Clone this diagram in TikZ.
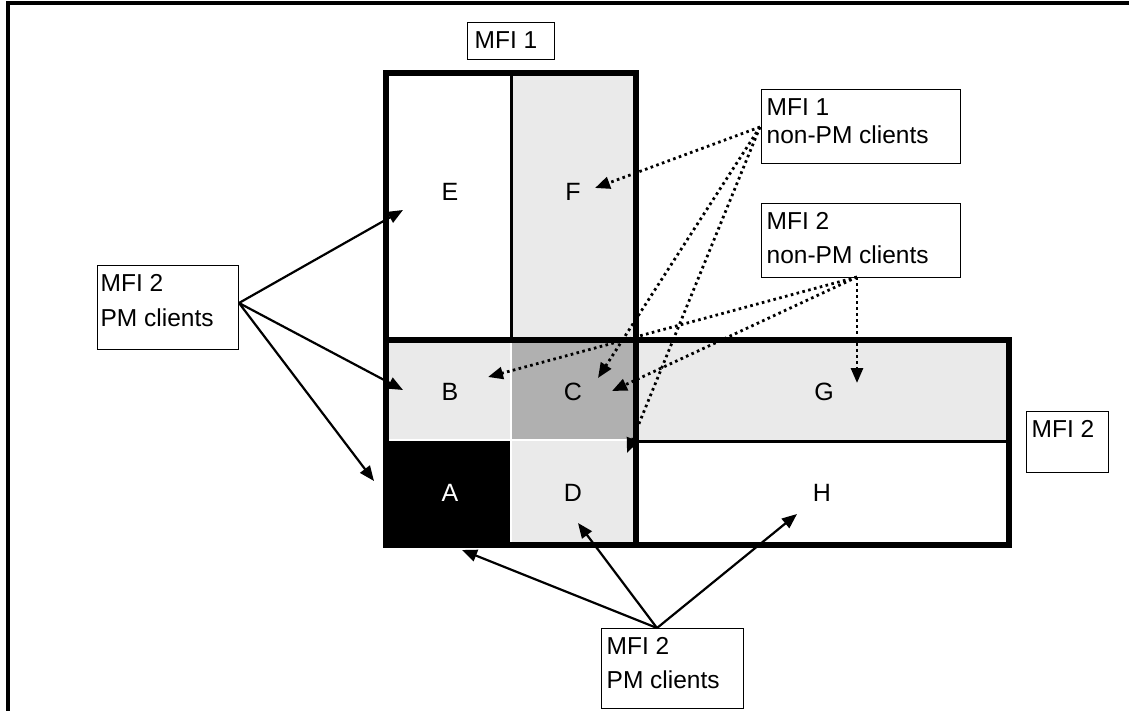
\documentclass[tikz,border=0pt]{standalone}
\usepackage{fontspec}
\setmainfont{Liberation Sans}
\usetikzlibrary{arrows.meta,calc}
\definecolor{lightfill}{RGB}{234,234,234}
\definecolor{midfill}{RGB}{176,176,176}
\tikzset{
  thickline/.style={line width=6.5pt, line cap=rect},
  thinline/.style={line width=3pt},
  gapline/.style={line width=2pt, white},
  cell/.style={font=\fontsize{25}{30}\selectfont},
  labelbox/.style={draw, line width=1.3pt, inner sep=0pt, anchor=north west},
  solidarrow/.style={line width=2.2pt, -{Triangle[length=15pt,width=12pt]}},
  dotarrow/.style={line width=2.8pt, dash pattern=on 2.6pt off 3.4pt, -{Triangle[length=15pt,width=12pt]}},
}
\newcommand{\boxtext}[6]{\parbox[t][#2pt][t]{#1pt}{\fontsize{24.5}{#3}\selectfont\hspace*{#4pt}\rule{0pt}{26pt}#5\\\hspace*{#4pt}#6}}
\newcommand{\boxone}[4]{\parbox[t][#2pt][t]{#1pt}{\fontsize{24.5}{28}\selectfont\hspace*{#3pt}\rule{0pt}{26pt}#4}}
\begin{document}
\begin{tikzpicture}[x=1pt,y=-1pt]
\useasboundingbox (0,0) rectangle (1129,710);
% outer frame
\draw[line width=4pt] (8,712) -- (8,3) -- (1131,3);
% cell fills
\fill[white] (386,73) rectangle (511,340);
\fill[lightfill] (511,73) rectangle (636,340);
\fill[lightfill] (386,340) rectangle (511,440);
\fill[midfill] (511,340) rectangle (636,440);
\fill[black] (386,440) rectangle (511,545);
\fill[lightfill] (511,440) rectangle (636,545);
\fill[lightfill] (636,340) rectangle (1009,441);
\fill[white] (636,441) rectangle (1009,545);
% gaps and thin lines
\draw[gapline] (511,340) -- (511,545);
\draw[gapline] (386,440) -- (636,440);
\draw[thinline] (511,73) -- (511,340);
\draw[thinline] (636,441) -- (1009,441);
% thick outlines
\draw[thickline] (386,545) -- (386,73) -- (636,73) -- (636,545);
\draw[thickline] (386,340) -- (1009,340) -- (1009,545) -- (386,545);
% cell labels
\node[cell] (cE) at (450,192) {E};
\node[cell] (cF) at (573,192) {F};
\node[cell] (cB) at (450,392) {B};
\node[cell] (cC) at (573,392) {C};
\node[cell] (cG) at (824,392) {G};
\node[cell, white] (cA) at (450,493) {A};
\node[cell] (cD) at (573,493) {D};
\node[cell] (cH) at (822,493) {H};
% label boxes
\node[labelbox] (top1) at (467,22) {\boxone{87}{37}{7}{MFI 1}};
\node[labelbox] (right2) at (1026,411) {\boxone{82}{61}{5}{MFI 2}};
\node[labelbox] (lpm) at (97,265) {\boxtext{141}{84}{35}{3}{MFI 2}{PM clients}};
\node[labelbox] (bpm) at (601,628) {\boxtext{142}{80}{34}{5}{MFI 2}{PM clients}};
\node[labelbox] (n1) at (761,89) {\boxtext{199}{74}{28}{5}{MFI 1}{non-PM clients}};
\node[labelbox] (n2) at (761,203) {\boxtext{199}{74}{34}{5}{MFI 2}{non-PM clients}};
% arrow sources and tips
\coordinate (lsrc) at (239,303);
\coordinate (bsrc) at (657,628);
\coordinate (n1src) at (760,127);
\coordinate (n2src) at (857,277);
\coordinate (tE) at (403,210);
\coordinate (tB) at (403,390);
\coordinate (tA) at (374,481);
\coordinate (tAb) at (462,550);
\coordinate (tD) at (578,523);
\coordinate (tH) at (797,514);
\coordinate (tF) at (595,188);
\coordinate (tC1) at (598,378);
\coordinate (tD2) at (627,453);
\coordinate (tB2) at (488,377);
\coordinate (tC2) at (612,391);
\coordinate (tG) at (857,383);
% solid arrows
\draw[solidarrow] (lsrc) -- (tE);
\draw[solidarrow] (lsrc) -- (tB);
\draw[solidarrow] (lsrc) -- (tA);
\draw[solidarrow] (bsrc) -- (tAb);
\draw[solidarrow] (bsrc) -- (tD);
\draw[solidarrow] (bsrc) -- (tH);
% dotted arrows
\draw[dotarrow] (n1src) -- (tF);
\draw[dotarrow] (n1src) -- (tC1);
\draw[dotarrow] (n1src) -- (tD2);
\draw[dotarrow] (n2src) -- (tB2);
\draw[dotarrow] (n2src) -- (tC2);
\draw[dotarrow] (n2src) -- (tG);
\end{tikzpicture}
\end{document}
